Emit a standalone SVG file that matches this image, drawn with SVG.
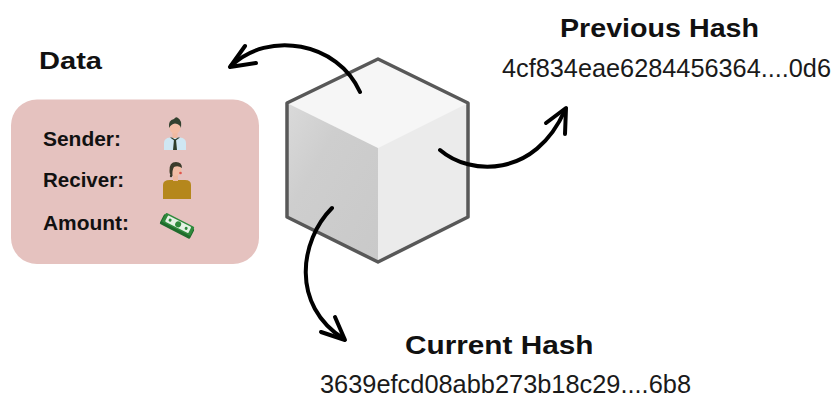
<svg xmlns="http://www.w3.org/2000/svg" width="834" height="399" viewBox="0 0 834 399">
  <style>
    .head { font-family: "Liberation Sans", Arial, sans-serif; font-weight: 700; fill: #111; }
    .hash { font-family: "Liberation Sans", Arial, sans-serif; font-weight: 400; fill: #1a1a1a; }
    .lbl { font-family: "Liberation Sans", Arial, sans-serif; font-weight: 700; font-size: 20px; fill: #111; }
    .arrow { fill: none; stroke: #000; stroke-width: 4; stroke-linecap: round; stroke-linejoin: round; }
    .edge { stroke: #585858; stroke-width: 3.5; stroke-linejoin: round; }
  </style>
  <defs>
    <linearGradient id="leftFace" x1="0" y1="0" x2="1" y2="1">
      <stop offset="0" stop-color="#dadada"/>
      <stop offset="0.35" stop-color="#cecece"/>
      <stop offset="1" stop-color="#c9c9c9"/>
    </linearGradient>
  </defs>
  <rect width="834" height="399" fill="#ffffff"/>

  <!-- Data panel -->
  <g id="data">
    <text class="head" x="39" y="69" font-size="24" textLength="63" lengthAdjust="spacingAndGlyphs">Data</text>
    <rect x="11" y="99.5" width="248" height="164.5" rx="26" fill="#e5c2bf"/>
    <text class="lbl" x="43" y="146" textLength="78" lengthAdjust="spacingAndGlyphs">Sender:</text>
    <text class="lbl" x="43" y="187" textLength="81" lengthAdjust="spacingAndGlyphs">Reciver:</text>
    <text class="lbl" x="43" y="230" textLength="86" lengthAdjust="spacingAndGlyphs">Amount:</text>

    <!-- sender icon -->
    <g id="sender-icon">
      <path d="M164,150 L164,143 Q164,138 170,137.5 L180,137.5 Q186,138 186,143 L186,150 Z" fill="#cfe7f3"/>
      <rect x="172.5" y="133" width="5" height="5" fill="#efb9a0"/>
      <circle cx="175" cy="128" r="5.5" fill="#f2bea6"/>
      <path d="M169,128 Q168,120 174,119 Q176,116 178,118 Q182,120 181,128 Q180,124 175,123.5 Q171,124 169,128 Z" fill="#33412f"/>
      <path d="M170,137.5 L175,141 L180,137.5 L178,137.5 L175,139.5 L172,137.5 Z" fill="#2e3d2a"/>
      <path d="M174,139.5 L176,139.5 L177,150 L173,150 Z" fill="#2e3d2a"/>
    </g>

    <!-- receiver icon -->
    <g id="receiver-icon">
      <path d="M163,199 L163,185 Q163,180 170,180 L185,180 Q191,180 191,185 L191,199 Z" fill="#b5871c"/>
      <rect x="173" y="175" width="5" height="6" fill="#efb9a0"/>
      <circle cx="175.5" cy="170" r="6" fill="#f2bea6"/>
      <path d="M169.5,171 Q169,162 176,162 Q182,162 182,168 Q178,165 174,167 Q172,170 172.5,176 Q169.5,176 169.5,171 Z" fill="#3b3b2b"/>
      <circle cx="180.5" cy="173" r="1.3" fill="#e0564d"/>
      <circle cx="171" cy="176" r="1.2" fill="#3b3b2b"/>
    </g>

    <!-- money icon -->
    <g id="money-icon" transform="translate(177,226.5) rotate(27)">
      <rect x="-17" y="-5.5" width="34" height="11" rx="1.5" fill="#1f6b2c"/>
      <rect x="-16" y="-7.5" width="32" height="10" rx="1.5" fill="#2f8a3c"/>
      <rect x="-13" y="-6" width="26" height="7" rx="1" fill="#e5f2e5"/>
      <circle cx="0" cy="-2.5" r="3" fill="#2f8a3c"/>
      <circle cx="-9" cy="-2.5" r="1.5" fill="#2f8a3c"/>
      <circle cx="9" cy="-2.5" r="1.5" fill="#2f8a3c"/>
    </g>
  </g>

  <!-- block cube -->
  <g id="block">
    <polygon points="378,59 468,103 378,148 287,103" fill="#f6f6f6"/>
    <polygon points="287,103 378,148 378,262 287,217" fill="url(#leftFace)"/>
    <polygon points="378,148 468,103 468,217 378,262" fill="#ebebeb"/>
    <polygon class="edge" points="378,59 468,103 468,217 378,262 287,217 287,103" fill="none"/>
  </g>

  <!-- previous hash label -->
  <g id="previous-hash">
    <text class="head" x="560" y="36.5" font-size="26.5" textLength="199" lengthAdjust="spacingAndGlyphs">Previous Hash</text>
    <text class="hash" x="502" y="76.5" font-size="25" textLength="329" lengthAdjust="spacingAndGlyphs">4cf834eae6284456364....0d6</text>
  </g>

  <!-- current hash label -->
  <g id="current-hash">
    <text class="head" x="405" y="353.5" font-size="26.5" textLength="188.5" lengthAdjust="spacingAndGlyphs">Current Hash</text>
    <text class="hash" x="320" y="393" font-size="25" textLength="371" lengthAdjust="spacingAndGlyphs">3639efcd08abb273b18c29....6b8</text>
  </g>

  <!-- connectors -->
  <g id="connectors">
    <path class="arrow" d="M360,92 C338,42 268,30 231,66"/>
    <polyline class="arrow" points="245,46 230,67 256,63"/>

    <path class="arrow" d="M440,150 C470,176 535,178 565,110"/>
    <polyline class="arrow" points="546,123 566,108 565,134"/>

    <path class="arrow" d="M332,208 C300,240 290,305 344,339"/>
    <polyline class="arrow" points="335,317 345,340 321,332"/>
  </g>
</svg>
